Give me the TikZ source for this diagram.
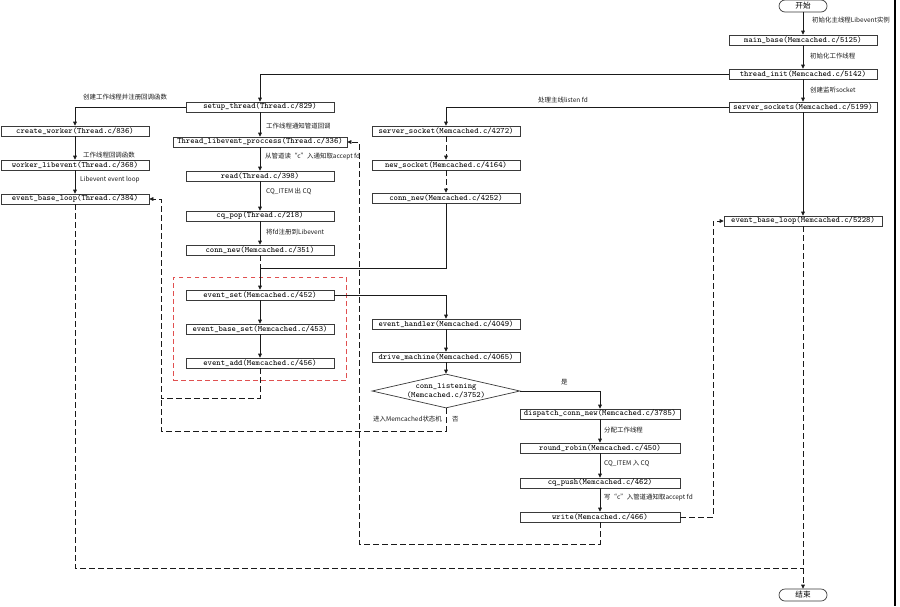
\documentclass[tikz,border=0pt]{standalone}
\usepackage{fontspec}
\usepackage{tikz}
\usetikzlibrary{arrows.meta,positioning,shapes,fit}
\newfontfamily\cjk{Noto Sans CJK SC}
\definecolor{ink}{HTML}{1A1A1A}
\definecolor{boxline}{HTML}{3A3A3A}
\definecolor{groupred}{HTML}{E05050}
\definecolor{shade}{HTML}{6A6A6A}
\tikzset{
  fnbox/.style={draw=boxline,fill=white,line width=0.6pt,minimum width=4.44cm,
                minimum height=0.3cm,inner xsep=1pt,inner ysep=0.5pt,
                font=\ttfamily\fontsize{7}{8}\selectfont},
  termbox/.style={draw=boxline,fill=white,line width=0.6pt,rounded corners=0.18cm,
                  minimum width=1.44cm,minimum height=0.36cm,inner sep=0pt,
                  font=\cjk\fontsize{6.5}{7}\selectfont},
  decide/.style={diamond,aspect=4.3,draw=boxline,fill=white,line width=0.6pt,
                 minimum width=4.44cm,minimum height=1.02cm,inner sep=0pt,
                 align=center,font=\ttfamily\fontsize{7}{8}\selectfont},
  note/.style={anchor=west,inner sep=0pt,text=ink,
               font=\cjk\fontsize{5.5}{6}\selectfont},
  arr/.style={-{Triangle[length=1.2mm,width=1.1mm]},line width=0.6pt,draw=ink},
  darr/.style={arr,dash pattern=on 1.6mm off 1.1mm},
  dline/.style={line width=0.6pt,draw=ink,dash pattern=on 1.6mm off 1.1mm},
  grp/.style={draw=groupred,line width=0.6pt,dash pattern=on 1.4mm off 1mm,
              inner sep=0.37cm}
}

\begin{document}
\begin{tikzpicture}[x=0.03cm,y=-0.03cm]
    \useasboundingbox (0,0) rectangle (900,606);
    \draw[shade,line width=1.4pt] (895,0) -- (895,606);

    % main thread
    \node[termbox] (start) at (803,6) {开始};
    \node[fnbox] (mainbase) at (803,40) {main\_base(Memcached.c/5125)};
    \node[fnbox] (thinit) at (803,74) {thread\_init(Memcached.c/5142)};
    \node[fnbox] (srvsocks) at (803,107) {server\_sockets(Memcached.c/5199)};
    \node[fnbox,minimum width=4.74cm] (mainloop) at (803,221)
      {event\_base\_loop(Memcached.c/5228)};
    \node[termbox] (stop) at (803,595) {结束};
    \node[note] at (812,20) {初始化主线程Libevent实例};
    \node[note] at (810,56) {初始化工作线程};
    \node[note] at (810,90) {创建监听socket};
    \draw[arr] (start) -- (mainbase);
    \draw[arr] (mainbase) -- (thinit);
    \draw[arr] (thinit) -- (srvsocks);
    \draw[arr] (srvsocks) -- (mainloop);
    \draw[darr] (mainloop) -- (stop);

    % worker threads
    \node[fnbox] (setup) at (260,107) {setup\_thread(Thread.c/829)};
    \node[fnbox] (mkworker) at (75,131) {create\_worker(Thread.c/836)};
    \node[fnbox] (wlibev) at (75,165) {worker\_libevent(Thread.c/368)};
    \node[fnbox] (wloop) at (75,199) {event\_base\_loop(Thread.c/384)};
    \node[note] at (83,97) {创建工作线程并注册回调函数};
    \node[note] at (83,155) {工作线程回调函数};
    \node[note] at (80,180) {Libevent event loop};
    \draw[arr] (thinit.west) -| (setup.north);
    \draw[arr] (setup.west) -| (mkworker.north);
    \draw[arr] (mkworker) -- (wlibev);
    \draw[arr] (wlibev) -- (wloop);

    \node[fnbox,minimum width=5.22cm] (thlib) at (260,142)
      {Thread\_libevent\_proccess(Thread.c/336)};
    \node[fnbox] (rd) at (260,176) {read(Thread.c/398)};
    \node[fnbox] (cqpop) at (260,216) {cq\_pop(Thread.c/218)};
    \node[fnbox] (wconn) at (260,250) {conn\_new(Memcached.c/351)};
    \node[note] at (266,126) {工作线程通知管道回调};
    \node[note] at (265,157) {从管道读“c”入通知取accept fd};
    \node[note] at (266,191) {CQ\_ITEM 出 CQ};
    \node[note] at (266,232) {将fd注册到Libevent};
    \draw[arr] (setup) -- (thlib);
    \draw[arr] (thlib) -- (rd);
    \draw[arr] (rd) -- (cqpop);
    \draw[arr] (cqpop) -- (wconn);

    \node[fnbox] (evset) at (260,295) {event\_set(Memcached.c/452)};
    \node[fnbox] (evbase) at (260,329) {event\_base\_set(Memcached.c/453)};
    \node[fnbox] (evadd) at (260,363) {event\_add(Memcached.c/456)};
    \node[grp,fit=(evset)(evadd)] (evgroup) {};
    \draw[arr] (evset) -- (evbase);
    \draw[arr] (evbase) -- (evadd);

    % listen socket
    \node[fnbox] (srvsock) at (446,131) {server\_socket(Memcached.c/4272)};
    \node[fnbox] (newsock) at (446,165) {new\_socket(Memcached.c/4164)};
    \node[fnbox] (lconn) at (446,198) {conn\_new(Memcached.c/4252)};
    \node[note] at (538,100) {处理主线listen fd};
    \draw[arr] (srvsocks.west) -| (srvsock.north);
    \draw[darr] (srvsock) -- (newsock);
    \draw[darr] (newsock) -- (lconn);
    \coordinate (merge) at (260,268);
    \draw[dline] (wconn) -- (merge);
    \draw[arr] (lconn.south) |- (merge) -- (evset.north);

    % state machine
    \node[fnbox] (evhandler) at (446,324) {event\_handler(Memcached.c/4049)};
    \node[fnbox] (drive) at (446,357) {drive\_machine(Memcached.c/4065)};
    \node[decide] (listening) at (446,391) {conn\_listening\\(Memcached.c/3752)};
    \draw[arr] (evset.east) -| (evhandler.north);
    \draw[arr] (evhandler) -- (drive);
    \draw[arr] (drive) -- (listening);

    \node[fnbox,minimum width=4.8cm] (dispatch) at (600,414)
      {dispatch\_conn\_new(Memcached.c/3785)};
    \node[fnbox,minimum width=4.8cm] (rrobin) at (600,448)
      {round\_robin(Memcached.c/450)};
    \node[fnbox,minimum width=4.8cm] (cqpush) at (600,483)
      {cq\_push(Memcached.c/462)};
    \node[fnbox,minimum width=4.8cm] (wr) at (600,517) {write(Memcached.c/466)};
    \node[note] at (561,382) {是};
    \node[note] at (604,430) {分配工作线程};
    \node[note] at (604,463) {CQ\_ITEM 入 CQ};
    \node[note] at (604,497) {写“c”入管道通知取accept fd};
    \draw[arr] (listening.east) -| (dispatch.north);
    \draw[arr] (dispatch) -- (rrobin);
    \draw[arr] (rrobin) -- (cqpush);
    \draw[arr] (cqpush) -- (wr);

    % dashed returns
    \node[note] at (373,419) {进入Memcached状态机};
    \node[note] at (452,419) {否};
    \coordinate (backa) at (161,398);
    \coordinate (backb) at (161,431);
    \coordinate (pipe) at (359,544);
    \coordinate (wake) at (713,517);
    \coordinate (tail) at (803,568);
    \draw[darr] (evadd.south) |- (backa) |- (wloop.east);
    \draw[dline] (listening.south) |- (backb) -- (backa);
    \draw[darr] (wr.south) |- (pipe) |- (thlib.east);
    \draw[darr] (wr.east) -- (wake) |- (mainloop.west);
    \draw[dline] (wloop.south) |- (tail);
  \end{tikzpicture}
\end{document}
